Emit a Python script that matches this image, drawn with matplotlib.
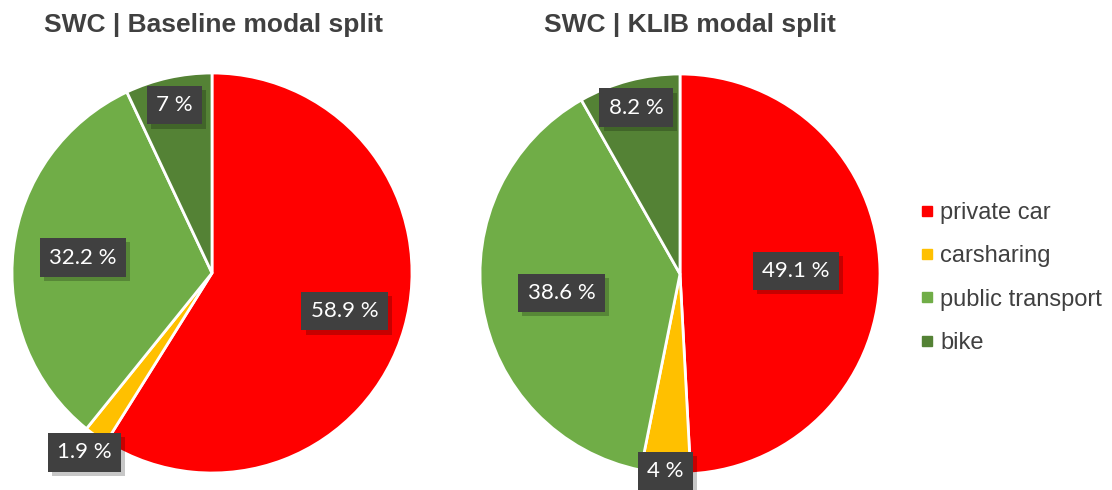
import numpy as np
import matplotlib
matplotlib.use("Agg")
import matplotlib.pyplot as plt
import matplotlib.patheffects as pe
from matplotlib.lines import Line2D

# ============================================================
# DATA
# ============================================================

modes = ["private car", "carsharing", "public transport", "bike"]
colors = ["#FF0000", "#FFC000", "#70AD47", "#548235"]

baseline_share = [58.9, 1.9, 32.2, 7]
klib_share = [49.1, 4, 38.6, 8.2]

titles = ["SWC | Baseline modal split", "SWC | KLIB modal split"]

# radial position of each data label (fraction of radius)
baseline_label_r = [0.69, 1.10, 0.65, 0.86]
klib_label_r = [0.58, 0.99, 0.60, 0.86]

W, H = 1112, 490
TEXT = "#404040"


def fmt(v):
    s = f"{v:g}"
    return f"{s} %"


def draw_pie(ax, values, label_r):
    wedges, _ = ax.pie(
        values, colors=colors, startangle=90, counterclock=False,
        wedgeprops=dict(edgecolor="white", linewidth=2), radius=1,
    )
    for w, v, r in zip(wedges, values, label_r):
        ang = np.deg2rad((w.theta1 + w.theta2) / 2)
        t = ax.text(
            r * np.cos(ang), r * np.sin(ang), fmt(v),
            ha="center", va="center", color="white", fontsize=16,
            family=["Lato", "DejaVu Sans"],
            bbox=dict(boxstyle="square,pad=0.42", fc="#404040", ec="none"),
            clip_on=False, zorder=5,
        )
        t.get_bbox_patch().set_path_effects([
            pe.withSimplePatchShadow(offset=(3, -3), shadow_rgbFace="black", alpha=0.22),
            pe.Normal(),
        ])
    ax.set_xlim(-1, 1)
    ax.set_ylim(-1, 1)
    ax.set_aspect("equal")
    ax.axis("off")
    return wedges


fig = plt.figure(figsize=(W / 100, H / 100), dpi=100)

centers = [(212, 273), (680, 274)]
R = 200
for (cx, cy), vals, lr, title, tx in zip(
    centers, [baseline_share, klib_share], [baseline_label_r, klib_label_r],
    titles, [213, 690]
):
    ax = fig.add_axes([(cx - R) / W, (H - cy - R) / H, 2 * R / W, 2 * R / H])
    draw_pie(ax, vals, lr)
    fig.text(tx / W, 1 - 25 / H, title, ha="center", va="center",
             fontsize=19, fontweight="bold", color=TEXT,
             family="Liberation Sans")

handles = [Line2D([], [], marker="s", linestyle="none", markersize=7,
                  markerfacecolor=c, markeredgecolor=c) for c in colors]
leg = fig.legend(
    handles, modes, loc="center left", bbox_to_anchor=(894 / W, 1 - 278 / H),
    frameon=False, handletextpad=0.05, labelspacing=0.9, handlelength=1.0,
    prop=dict(family="Liberation Sans", size=17),
)
for t in leg.get_texts():
    t.set_color(TEXT)

fig.savefig("out.png", dpi=100)
